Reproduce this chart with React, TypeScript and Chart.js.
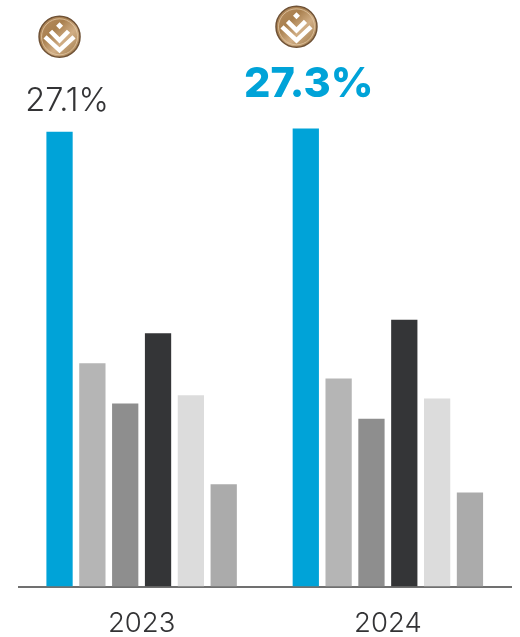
import React, { useEffect, useRef } from "react";
import { Chart, registerables } from "chart.js";

Chart.register(...registerables);

const years = ["2023", "2024"];
const brandShare = [27.1, 27.3];
const peerA = [13.3, 12.4];
const peerB = [10.9, 10.0];
const peerC = [15.1, 15.9];
const peerD = [11.4, 11.2];
const peerE = [6.1, 5.6];

const seriesColors = ["#00a3d8", "#b5b5b5", "#8e8e8e", "#343537", "#dcdcdc", "#ababab"];
const textColor = "#333335";
const fontFamily = "Inter, 'Open Sans', sans-serif";

// Offsets from the top of each brand bar: label baseline and medallion centre.
const callouts = [
  { labelDx: 7.5, labelDy: -21, weight: 300, size: 32.5, color: textColor, badgeDx: 0, badgeDy: -95 },
  { labelDx: 3, labelDy: -31, weight: 800, size: 41.5, color: "#00a3d8", badgeDx: -9.3, badgeDy: -101.6 },
];

function drawBadge(ctx: CanvasRenderingContext2D, cx: number, cy: number) {
  const r = 20.5;
  ctx.save();
  ctx.translate(cx, cy);
  const fill = ctx.createLinearGradient(-r, -r, r, r);
  fill.addColorStop(0, "#b98f63");
  fill.addColorStop(0.35, "#a9804f");
  fill.addColorStop(0.6, "#d1ae85");
  fill.addColorStop(1, "#96703f");
  ctx.beginPath();
  ctx.arc(0, 0, r, 0, Math.PI * 2);
  ctx.fillStyle = fill;
  ctx.fill();
  ctx.lineWidth = 1.5;
  ctx.strokeStyle = "#6f5236";
  ctx.stroke();
  ctx.beginPath();
  ctx.arc(0, 0, r - 2.5, 0, Math.PI * 2);
  ctx.lineWidth = 0.8;
  ctx.strokeStyle = "#e2c8a6";
  ctx.stroke();

  ctx.fillStyle = "#ffffff";
  ctx.beginPath();
  ctx.moveTo(0, -14.5);
  ctx.lineTo(3.5, -11);
  ctx.lineTo(0, -7.5);
  ctx.lineTo(-3.5, -11);
  ctx.closePath();
  ctx.fill();

  ctx.strokeStyle = "#ffffff";
  ctx.lineWidth = 4.5;
  ctx.lineCap = "butt";
  ctx.lineJoin = "miter";
  ctx.beginPath();
  ctx.moveTo(-9, -5.5);
  ctx.lineTo(0, 3.5);
  ctx.lineTo(9, -5.5);
  ctx.stroke();
  ctx.beginPath();
  ctx.moveTo(-14.5, 0);
  ctx.lineTo(0, 13.5);
  ctx.lineTo(14.5, 0);
  ctx.stroke();
  ctx.restore();
}

const calloutPlugin = {
  id: "brandCallouts",
  afterDatasetsDraw(chart: Chart) {
    const ctx = chart.ctx;
    const bars = chart.getDatasetMeta(0).data;
    bars.forEach((bar: any, i: number) => {
      const c = callouts[i];
      ctx.save();
      ctx.font = `${c.weight} ${c.size}px ${fontFamily}`;
      ctx.fillStyle = c.color;
      ctx.textAlign = "center";
      ctx.textBaseline = "alphabetic";
      ctx.fillText(`${brandShare[i]}%`, bar.x + c.labelDx, bar.y + c.labelDy);
      ctx.restore();
      drawBadge(ctx, bar.x + c.badgeDx, bar.y + c.badgeDy);
    });
  },
};

export default function App() {
  const canvasRef = useRef<HTMLCanvasElement>(null);

  useEffect(() => {
    document.body.style.margin = "0";
    document.body.style.background = "#ffffff";
    const series = [brandShare, peerA, peerB, peerC, peerD, peerE];
    const chart = new Chart(canvasRef.current!, {
      type: "bar",
      data: {
        labels: years,
        datasets: series.map((values, i) => ({
          label: `Series ${i + 1}`,
          data: values,
          backgroundColor: seriesColors[i],
          categoryPercentage: 0.8,
          barPercentage: 0.8,
        })),
      },
      options: {
        responsive: false,
        animation: false,
        layout: { padding: { left: 18.5, right: 9, top: 16, bottom: 0 } },
        plugins: { legend: { display: false }, tooltip: { enabled: false } },
        scales: {
          x: {
            afterFit(scale: any) {
              scale.height = 50.5;
            },
            grid: { display: false },
            border: { display: true, color: "#707070", width: 2 },
            ticks: {
              color: textColor,
              padding: 13,
              font: { family: fontFamily, size: 27.5, weight: 300 },
            },
          },
          y: { display: false, min: 0, max: 34 },
        },
      },
      plugins: [calloutPlugin],
    });
    return () => chart.destroy();
  }, []);

  return <canvas ref={canvasRef} width={520} height={637} style={{ display: "block" }} />;
}
